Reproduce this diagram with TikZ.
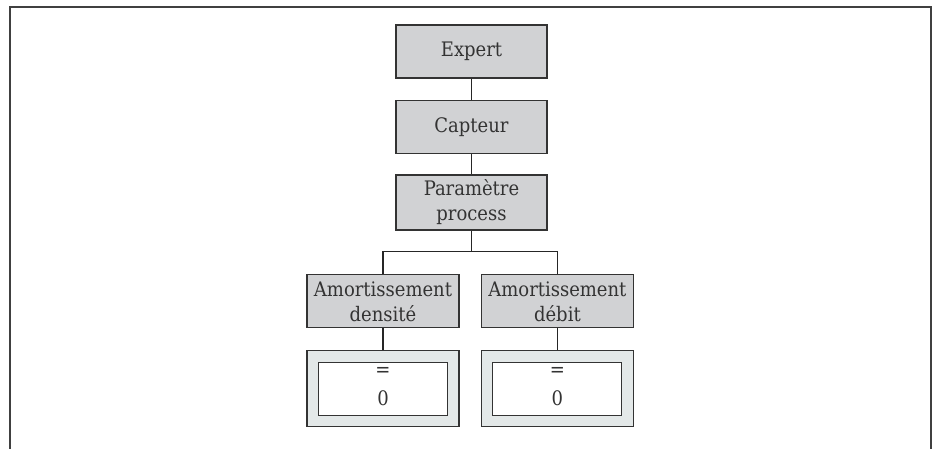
\documentclass[tikz,border=0pt]{standalone}
\usepackage{fontspec}
\setmainfont{DejaVu Serif Condensed}
\begin{document}
\begin{tikzpicture}[x=1pt,y=-1pt,
  labelfont/.style={font=\fontsize{20}{25}\selectfont, text=black!80},
  menubox/.style={draw=black!80, fill=boxgray, line width=1.1pt, rectangle,
    minimum width=151pt, minimum height=53pt, inner sep=0pt, align=center,
    labelfont},
  valueouter/.style={draw=black!80, fill=valgray, line width=1.1pt, rectangle,
    minimum width=152pt, minimum height=76pt, inner sep=0pt},
  valueinner/.style={draw=black!80, fill=white, line width=1.1pt, rectangle,
    minimum width=129pt, minimum height=53pt, inner sep=0pt},
  link/.style={draw=black!85, line width=1.1pt}]
\definecolor{boxgray}{HTML}{D1D2D4}
\definecolor{valgray}{HTML}{E3E8E8}
\useasboundingbox (0,0) rectangle (937,448);
% open frame
\draw[line width=2pt, black!75] (9.5,449) -- (9.5,6.5) -- (930.5,6.5) -- (930.5,449);

\node[menubox] (expert) at (471.5,51.5) {Expert};
\node[menubox] (capteur) at (471.5,127) {Capteur};
\node[menubox, minimum height=55pt] (param) at (471.5,202.5) {Paramètre\\process};
\node[menubox, minimum width=152pt] (amdens) at (383,301.4) {Amortissement\\densité};
\node[menubox, minimum width=152pt] (amdeb) at (557.4,301.4) {Amortissement\\débit};

\node[valueouter] (vdens) at (383,388.7) {};
\node[valueinner] (vdensin) at (vdens.center) {};
\node[valueouter] (vdeb) at (557.4,388.7) {};
\node[valueinner] (vdebin) at (vdeb.center) {};
\node[labelfont] (eqa) at (383,372) {=};
\node[labelfont] (zeroa) at (383,398) {0};
\node[labelfont] (eqb) at (557.4,372) {=};
\node[labelfont] (zerob) at (557.4,398) {0};

\coordinate (junction) at (471.5,251.7);
\draw[link] (expert) -- (capteur);
\draw[link] (capteur) -- (param);
\draw[link] (param.south) -- (junction) -| (amdens.north);
\draw[link] (junction) -| (amdeb.north);
\draw[link] (amdens) -- (vdens);
\draw[link] (amdeb) -- (vdeb);
\end{tikzpicture}
\end{document}
